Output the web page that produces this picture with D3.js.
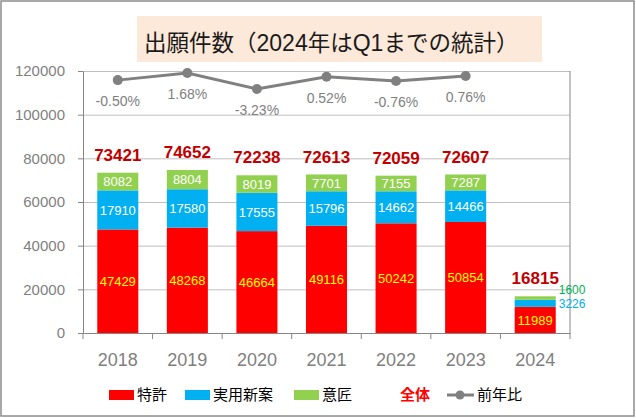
<!DOCTYPE html>
<html>
<head>
<meta charset="utf-8">
<script src="https://cdn.jsdelivr.net/npm/d3@7"></script>
<style>
  body { margin: 0; background: #fff; }
  svg { display: block; }
</style>
</head>
<body>
<script>
// 出願件数 stacked bars + 前年比 line
var w = 636, h = 418;

// data
var years = ["2018", "2019", "2020", "2021", "2022", "2023", "2024"];
var patent  = [47429, 48268, 46664, 49116, 50242, 50854, 11989]; // 特許
var utility = [17910, 17580, 17555, 15796, 14662, 14466, 3226];  // 実用新案
var design  = [8082, 8804, 8019, 7701, 7155, 7287, 1600];        // 意匠
var totals  = [73421, 74652, 72238, 72613, 72059, 72607, 16815]; // 全体
var yoy     = [-0.50, 1.68, -3.23, 0.52, -0.76, 0.76];           // 前年比 (%), 2018-2023
var yTicks  = [0, 20000, 40000, 60000, 80000, 100000, 120000];

var seriesNames  = ["特許", "実用新案", "意匠"];
var seriesColors = ["#ff0000", "#00b0f0", "#92d050"];
var labelColors  = ["#ffff00", "#ffffff", "#ffffff"];

var cjk = "'Noto Sans CJK JP', sans-serif";
var latin = "'Liberation Sans', Arial, sans-serif";

var svg = d3.select("body").append("svg")
  .attr("width", w)
  .attr("height", h);

// outer frame
svg.append("rect")
  .attr("x", 1).attr("y", 1)
  .attr("width", w - 3).attr("height", h - 3)
  .attr("fill", "#fff")
  .attr("stroke", "#8c8c8c")
  .attr("stroke-width", 1.5);

// scales
var x = d3.scaleBand().domain(years).range([83, 570])
  .paddingInner(0.41).paddingOuter(0.205);
var step = x.step();
var y = d3.scaleLinear().domain([0, 120000]).range([333, 71]);
// secondary axis for 前年比 (hidden)
var y2 = d3.scaleLinear().domain([-78.1, 2.3]).range([333, 71]);

// grid lines
svg.append("g")
  .attr("transform", "translate(83,0)")
  .call(d3.axisLeft(y).tickValues(yTicks).tickSize(-487).tickFormat(""))
  .call(function(g){
    g.select(".domain").remove();
    g.selectAll("line").attr("stroke", "#bfbfbf");
  });

// y axis
svg.append("g")
  .attr("transform", "translate(83,0)")
  .call(d3.axisLeft(y).tickValues(yTicks).tickSize(5).tickSizeOuter(0)
    .tickPadding(13).tickFormat(d3.format("d")))
  .call(function(g){
    g.select(".domain").attr("stroke", "#868686");
    g.selectAll("line").attr("stroke", "#868686");
    g.selectAll("text")
      .attr("fill", "#7f7f7f")
      .attr("font-family", latin)
      .attr("font-size", "15px");
  });

// right border of plot
svg.append("line")
  .attr("x1", 570).attr("x2", 570)
  .attr("y1", y(120000)).attr("y2", y(0) + 6)
  .attr("stroke", "#868686");
svg.append("line")
  .attr("x1", 83).attr("x2", 83)
  .attr("y1", y(0)).attr("y2", y(0) + 6)
  .attr("stroke", "#868686");

// stacked bars
var stackData = years.map(function(yr, i){
  return { year: yr, a: patent[i], b: utility[i], c: design[i] };
});
var stack = d3.stack().keys(["a", "b", "c"])(stackData);

var layers = svg.selectAll("g.layer")
  .data(stack)
  .enter().append("g")
  .attr("class", "layer")
  .attr("fill", function(d, i){ return seriesColors[i]; });

layers.selectAll("rect")
  .data(function(d){ return d; })
  .enter().append("rect")
  .attr("x", function(d){ return x(d.data.year); })
  .attr("width", x.bandwidth())
  .attr("y", function(d){ return y(d[1]); })
  .attr("height", function(d){ return y(d[0]) - y(d[1]); });

// x axis
svg.append("g")
  .attr("transform", "translate(0," + y(0) + ")")
  .call(d3.axisBottom(x).tickSize(0).tickPadding(20))
  .call(function(g){
    g.select(".domain").attr("stroke", "#868686");
    g.selectAll("text")
      .attr("fill", "#7f7f7f")
      .attr("font-family", latin)
      .attr("font-size", "18px");
  });
// category boundary ticks
svg.selectAll("line.cat")
  .data(years.slice(1))
  .enter().append("line")
  .attr("class", "cat")
  .attr("x1", function(d){ return x(d) - step * 0.205; })
  .attr("x2", function(d){ return x(d) - step * 0.205; })
  .attr("y1", y(0)).attr("y2", y(0) + 6)
  .attr("stroke", "#868686");

// segment labels (inside the bars; 2024 only the red one)
stack.forEach(function(layer, k){
  svg.selectAll("text.seg" + k)
    .data(layer.filter(function(d){ return d.data.year !== "2024" || k === 0; }))
    .enter().append("text")
    .attr("class", "seg" + k)
    .attr("x", function(d){ return x(d.data.year) + x.bandwidth() / 2; })
    .attr("y", function(d){ return (y(d[0]) + y(d[1])) / 2; })
    .attr("dy", "0.36em")
    .attr("text-anchor", "middle")
    .attr("font-family", latin)
    .attr("font-size", "13px")
    .attr("fill", labelColors[k])
    .text(function(d){ return d[1] - d[0]; });
});

// 2024 small segments: labels to the right of the bar
var last = years.length - 1;
svg.append("text")
  .attr("x", x(years[last]) + x.bandwidth() + 3)
  .attr("y", y(patent[last] + utility[last]) + 8.5)
  .attr("font-family", latin).attr("font-size", "12px")
  .attr("fill", "#00b0f0")
  .text(utility[last]);
svg.append("text")
  .attr("x", x(years[last]) + x.bandwidth() + 3)
  .attr("y", y(totals[last]) - 1.8)
  .attr("font-family", latin).attr("font-size", "12px")
  .attr("fill", "#00b050")
  .text(design[last]);

// totals
svg.selectAll("text.total")
  .data(totals)
  .enter().append("text")
  .attr("class", "total")
  .attr("x", function(d, i){ return x(years[i]) + x.bandwidth() / 2; })
  .attr("y", function(d){ return y(d) - 18; })
  .attr("dy", "0.36em")
  .attr("text-anchor", "middle")
  .attr("font-family", latin)
  .attr("font-size", "17px")
  .attr("font-weight", "bold")
  .attr("fill", "#c00000")
  .text(function(d){ return d; });

// 前年比 line
var yoyData = yoy.map(function(v, i){ return { year: years[i], v: v }; });
var line = d3.line()
  .x(function(d){ return x(d.year) + x.bandwidth() / 2; })
  .y(function(d){ return y2(d.v); });
svg.append("path")
  .datum(yoyData)
  .attr("d", line)
  .attr("fill", "none")
  .attr("stroke", "#808080")
  .attr("stroke-width", 3);
svg.selectAll("circle.yoy")
  .data(yoyData)
  .enter().append("circle")
  .attr("class", "yoy")
  .attr("cx", function(d){ return x(d.year) + x.bandwidth() / 2; })
  .attr("cy", function(d){ return y2(d.v); })
  .attr("r", 5)
  .attr("fill", "#808080");
svg.selectAll("text.yoy")
  .data(yoyData)
  .enter().append("text")
  .attr("class", "yoy")
  .attr("x", function(d){ return x(d.year) + x.bandwidth() / 2; })
  .attr("y", function(d){ return y2(d.v) + 21; })
  .attr("dy", "0.36em")
  .attr("text-anchor", "middle")
  .attr("font-family", latin)
  .attr("font-size", "14px")
  .attr("fill", "#7f7f7f")
  .text(function(d){ return d.v.toFixed(2) + "%"; });

// title
svg.append("rect")
  .attr("x", 137).attr("y", 16)
  .attr("width", 405).attr("height", 46)
  .attr("fill", "#fde9d9");
var title = svg.append("text")
  .attr("x", 144).attr("y", 51)
  .attr("font-size", "22.5px")
  .attr("fill", "#1a1a1a")
  .attr("font-family", cjk);
title.append("tspan").text("出願件数（");
title.append("tspan").attr("font-family", latin).attr("font-size", "23px").text("2024");
title.append("tspan").text("年は");
title.append("tspan").attr("font-family", latin).attr("font-size", "23px").text("Q1");
title.append("tspan").text("までの統計）");

// legend
var legX = [109, 185, 294];
var leg = svg.selectAll("g.leg")
  .data(seriesNames)
  .enter().append("g")
  .attr("class", "leg")
  .attr("transform", function(d, i){ return "translate(" + legX[i] + ",395)"; });
leg.append("rect")
  .attr("x", 0).attr("y", -5)
  .attr("width", 25).attr("height", 10)
  .attr("fill", function(d, i){ return seriesColors[i]; });
leg.append("text")
  .attr("x", 28).attr("y", 0).attr("dy", "0.36em")
  .attr("font-family", cjk).attr("font-size", "15px")
  .attr("fill", "#000")
  .text(function(d){ return d; });

svg.append("text")
  .attr("x", 400).attr("y", 395).attr("dy", "0.36em")
  .attr("font-family", cjk).attr("font-size", "15px")
  .attr("font-weight", "bold")
  .attr("fill", "#ff0000")
  .text("全体");
svg.append("line")
  .attr("x1", 447).attr("x2", 474)
  .attr("y1", 395).attr("y2", 395)
  .attr("stroke", "#808080").attr("stroke-width", 3);
svg.append("circle")
  .attr("cx", 460).attr("cy", 395).attr("r", 4.5)
  .attr("fill", "#808080");
svg.append("text")
  .attr("x", 477).attr("y", 395).attr("dy", "0.36em")
  .attr("font-family", cjk).attr("font-size", "15px")
  .attr("fill", "#000")
  .text("前年比");
</script>
</body>
</html>
